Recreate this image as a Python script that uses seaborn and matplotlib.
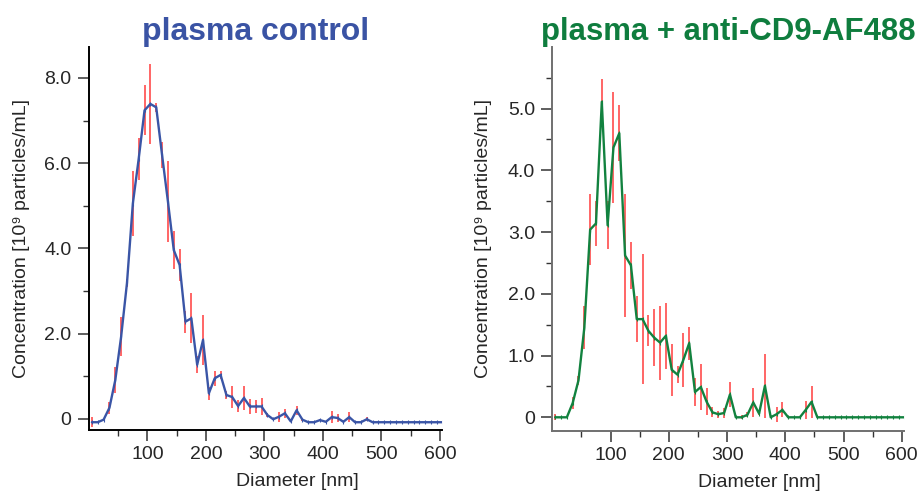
import numpy as np
import pandas as pd
import seaborn as sns
import matplotlib.pyplot as plt
from matplotlib.ticker import FixedLocator

# Diameter bins (nm)
diameter_nm = [5, 15, 25, 35, 45, 55, 65, 75, 85, 95,
               105, 115, 125, 135, 145, 155, 165, 175, 185, 195,
               205, 215, 225, 235, 245, 255, 265, 275, 285, 295,
               305, 315, 325, 335, 345, 355, 365, 375, 385, 395,
               405, 415, 425, 435, 445, 455, 465, 475, 485, 495,
               505, 515, 525, 535, 545, 555, 565, 575, 585, 595, 605]

# plasma control (10^9 particles/mL)
control_conc = [-0.08, -0.08, -0.02, 0.26, 0.91, 1.93, 3.19, 5.05, 6.1, 7.24,
                7.39, 7.31, 6.19, 5.1, 3.96, 3.61, 2.28, 2.36, 1.27, 1.85,
                0.6, 0.95, 1.03, 0.56, 0.51, 0.30, 0.49, 0.29, 0.29, 0.29,
                0.09, -0.01, 0.05, 0.13, -0.06, 0.2, -0.02, -0.08, -0.08, -0.03,
                -0.07, 0.04, 0.02, -0.07, 0.04, -0.08, -0.08, -0.01, -0.08, -0.08,
                -0.08, -0.08, -0.08, -0.08, -0.08, -0.08, -0.08, -0.08, -0.08, -0.08, -0.08]
control_err = [0.12, 0, 0, 0.14, 0.3, 0.45, 0.1, 0.76, 0.49, 0.59,
               0.94, 0.1, 0.31, 0.94, 0.45, 0.37, 0.26, 0.59, 0.2, 0.59,
               0.15, 0.18, 0.1, 0.1, 0.25, 0.15, 0.28, 0.18, 0.15, 0.2,
               0.04, 0.02, 0.12, 0.1, 0.02, 0.1, 0.04, 0, 0, 0.02,
               0, 0.14, 0.09, 0, 0.11, 0, 0, 0.05, 0, 0,
               0, 0, 0, 0, 0, 0, 0, 0, 0, 0, 0]

# plasma + anti-CD9-AF488
cd9_conc = [0, 0, 0, 0.23, 0.6, 1.45, 3.04, 3.14, 5.11, 3.11,
            4.37, 4.6, 2.62, 2.46, 1.59, 1.59, 1.40, 1.29, 1.21, 1.32,
            0.77, 0.69, 0.93, 1.2, 0.41, 0.49, 0.25, 0.08, 0.05, 0.07,
            0.37, 0, 0, 0.04, 0.24, 0.06, 0.51, 0, 0.05, 0.12,
            0, 0, 0, 0.12, 0.25, 0, 0, 0, 0, 0,
            0, 0, 0, 0, 0, 0, 0, 0, 0, 0, 0]
cd9_err = [0.05, 0, 0, 0.1, 0.07, 0.35, 0.58, 0.36, 0.37, 0.39,
           0.9, 0.45, 0.99, 0.38, 0.37, 1.05, 0.25, 0.46, 0.6, 0.53,
           0.42, 0.14, 0.44, 0.27, 0.22, 0.37, 0.22, 0.08, 0.06, 0.08,
           0.2, 0, 0.03, 0.04, 0.24, 0.03, 0.52, 0, 0.12, 0.12,
           0, 0, 0, 0.14, 0.26, 0, 0, 0, 0, 0,
           0, 0, 0, 0, 0, 0, 0, 0, 0, 0, 0]

x_major = [100, 200, 300, 400, 500, 600]
x_minor = [50, 150, 250, 350, 450, 550]
control_yticks = [0, 2, 4, 6, 8]
control_yminor = [1, 3, 5, 7]
control_ylabels = ['0', '2.0', '4.0', '6.0', '8.0']
cd9_yticks = [0, 1, 2, 3, 4, 5]
cd9_yminor = [0.5, 1.5, 2.5, 3.5, 4.5, 5.5]
cd9_ylabels = ['0', '1.0', '2.0', '3.0', '4.0', '5.0']

sns.set_style("ticks")
plt.rcParams['font.family'] = ['Liberation Sans', 'DejaVu Sans']

fig = plt.figure(figsize=(9.22, 4.93), dpi=100)
ax1 = fig.add_axes([0.0965, 0.128, 0.3825, 0.777])
ax2 = fig.add_axes([0.599, 0.126, 0.381, 0.779])

panels = [
    (ax1, control_conc, control_err, '#3a55a6', 'plasma control', '#3a53a4', 0.473, 23,
     (-0.26, 8.73), control_yticks, control_yminor, control_ylabels, 'black', 10.5),
    (ax2, cd9_conc, cd9_err, '#12823f', 'plasma + anti-CD9-AF488', '#0f7d3e', 0.5, 22.4,
     (-0.22, 6.0), cd9_yticks, cd9_yminor, cd9_ylabels, '#707070', 11),
]

for ax, conc, err, lc, title, tc, tx, tsize, ylim, yt, ym, ylab, spc, ypad in panels:
    df = pd.DataFrame({'diameter': diameter_nm, 'conc': conc, 'err': err})
    ax.errorbar(df['diameter'], df['conc'], yerr=df['err'], fmt='none',
                ecolor='#ff1a1a', elinewidth=1.1, capsize=0, alpha=0.85, zorder=2)
    sns.lineplot(data=df, x='diameter', y='conc', ax=ax, color=lc, linewidth=1.7,
                 marker='|', markersize=3, markeredgewidth=0.8, markeredgecolor=lc,
                 zorder=3)
    ax.set_xlim(0, 603)
    ax.set_ylim(*ylim)
    ax.xaxis.set_major_locator(FixedLocator(x_major))
    ax.xaxis.set_minor_locator(FixedLocator(x_minor))
    ax.yaxis.set_major_locator(FixedLocator(yt))
    ax.yaxis.set_minor_locator(FixedLocator(ym))
    ax.set_yticklabels(ylab)
    ax.tick_params(which='major', length=8, width=1.1, color='#333333',
                   labelsize=14, pad=4.5, direction='out')
    ax.tick_params(which='minor', length=4, width=1.0, color='#333333', direction='out')
    ax.tick_params(axis='x', which='major', pad=3.5)
    for s in ['top', 'right']:
        ax.spines[s].set_visible(False)
    for s in ['left', 'bottom']:
        ax.spines[s].set_color(spc)
        ax.spines[s].set_linewidth(1.4)
    ax.set_xlabel('Diameter [nm]', fontsize=14, x=0.59, labelpad=7)
    ax.set_ylabel('Concentration [10⁹ particles/mL]', fontsize=14, labelpad=ypad)
    ax.set_title(title, fontsize=tsize, fontweight='bold', color=tc, pad=3, x=tx)

plt.savefig('out.png', dpi=100)
